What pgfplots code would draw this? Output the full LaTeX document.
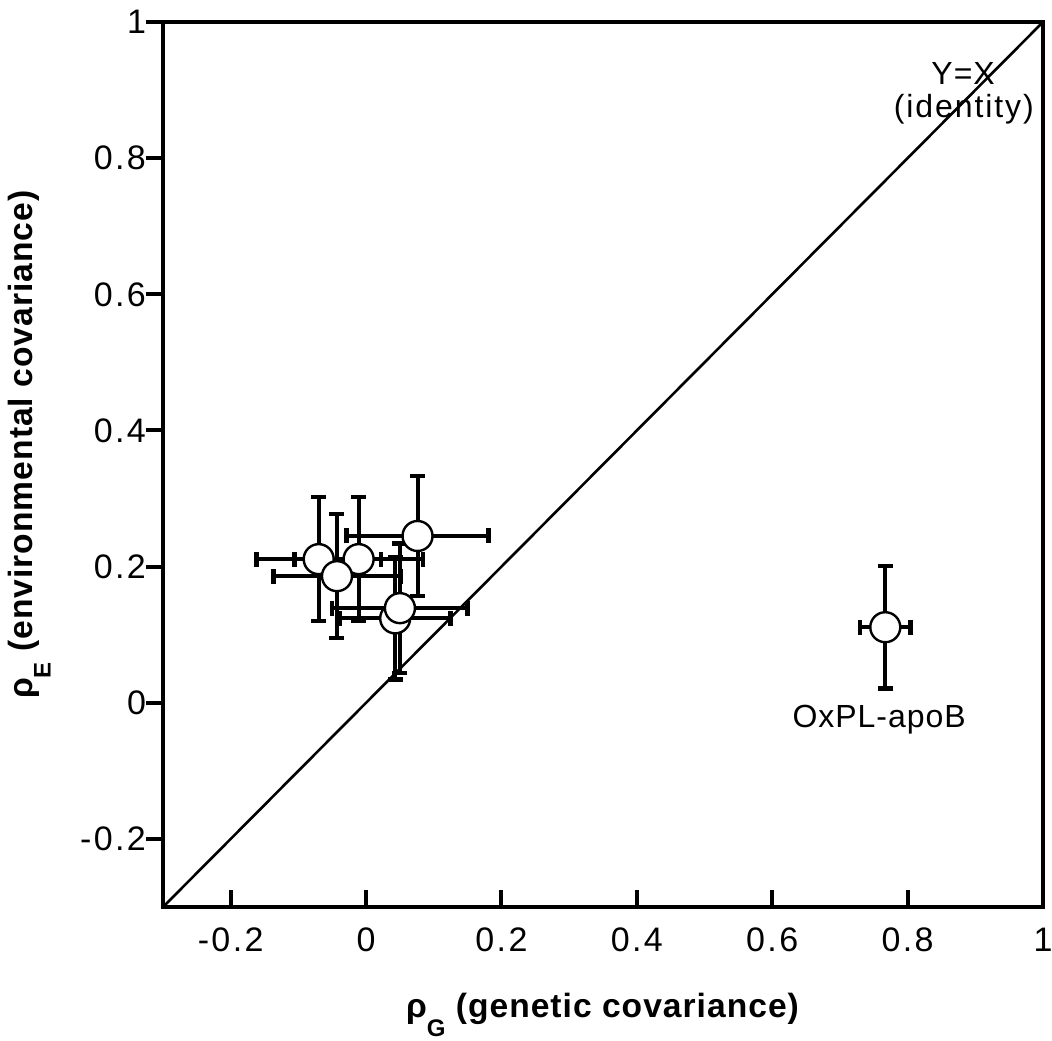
\documentclass[border=0pt]{standalone}
\usepackage{fontspec}
\setmainfont{Liberation Sans}[LetterSpace=3]
\usepackage{pgfplots}
\pgfplotsset{compat=1.18}

% x, y, x error, y error
\pgfplotstableread{
x      y      ex     ey
-0.070 0.211  0.092  0.091
-0.011 0.211  0.095  0.091
 0.076 0.245  0.105  0.088
-0.043 0.186  0.094  0.091
 0.043 0.124  0.082  0.090
 0.050 0.139  0.100  0.095
 0.767 0.111  0.037  0.090
}\pts

\newcommand{\rhosub}[1]{ρ\raisebox{-0.55em}{\fontsize{12pt}{12pt}\selectfont #1}}

\begin{document}
\begin{tikzpicture}
  \begin{axis}[
    name=ax,
    scale only axis,
    width=440pt, height=442.5pt,
    xmin=-0.3, xmax=1, ymin=-0.3, ymax=1,
    xtick={-0.2,0,0.2,0.4,0.6,0.8,1},
    xticklabels={-0.2,0,0.2,0.4,0.6,0.8,1},
    ytick={-0.2,0,0.2,0.4,0.6,0.8,1},
    yticklabels={-0.2,0,0.2,0.4,0.6,0.8,1},
    xtick pos=bottom, ytick pos=left,
    xtick align=inside, ytick align=outside,
    major tick length=8.5pt,
    every tick/.style={black, line width=2pt},
    axis line style={line width=2.2pt},
    tick label style={font=\fontsize{17pt}{19pt}\selectfont\addfontfeature{LetterSpace=7}},
    xticklabel style={yshift=-7pt},
    yticklabel style={xshift=3.5pt},
    xlabel={\textbf{\rhosub{G} (genetic covariance)}},
    ylabel={\textbf{\rhosub{E} (environmental covariance)}},
    label style={font=\fontsize{16.8pt}{19pt}\selectfont},
    xlabel style={at={(axis description cs:0.5,-0.122)}, anchor=center},
    ylabel style={at={(axis description cs:-0.152,0.523)}, anchor=center},
    clip=false,
  ]
    % identity line
    \addplot[black, line width=1.3pt] coordinates {(-0.3,-0.3) (1,1)};

    \addplot[
      only marks, mark=*, mark size=7.5pt,
      mark options={fill=white, draw=black, line width=1.2pt},
      error bars/.cd,
        x dir=both, x explicit, y dir=both, y explicit,
        error bar style={line width=2pt, black},
        error mark options={rotate=90, line width=2.2pt, mark size=3.75pt, black},
    ] table[x=x, y=y, x error=ex, y error=ey] {\pts};

    \node[anchor=base, font=\fontsize{16pt}{17pt}\selectfont]
      at (axis cs:0.882,0.9075) {Y=X};
    \node[anchor=base, font=\fontsize{16pt}{17pt}\selectfont\addfontfeature{LetterSpace=6}]
      at (axis cs:0.883,0.859) {(identity)};
    \node[anchor=base, font=\fontsize{16pt}{17pt}\selectfont]
      at (axis cs:0.758,-0.037) {OxPL-apoB};
  \end{axis}
  % picture extent as in the reference
  \pgfresetboundingbox
  \path (ax.south west) ++(-81.5pt,-66.5pt);
  \path (ax.north east) ++(4.5pt,11pt);
\end{tikzpicture}
\end{document}
